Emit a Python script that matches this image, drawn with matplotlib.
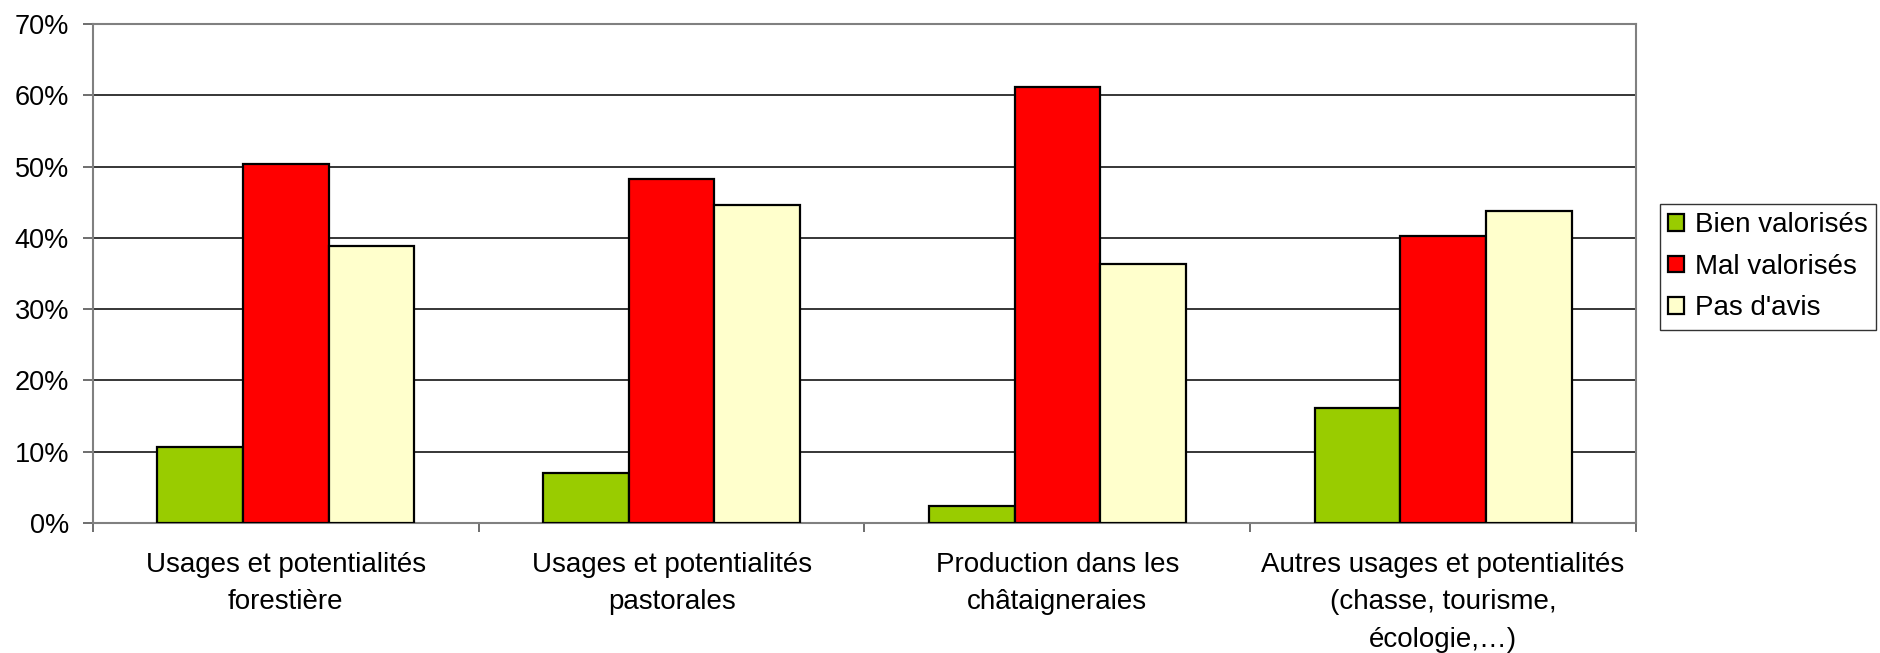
import matplotlib.pyplot as plt
import numpy as np

categories = [
    "Usages et potentialités\nforestière",
    "Usages et potentialités\npastorales",
    "Production dans les\nchâtaigneraies",
    "Autres usages et potentialités\n(chasse, tourisme,\nécologie,…)",
]
series_names = ["Bien valorisés", "Mal valorisés", "Pas d'avis"]
bien = [10.6, 7.0, 2.4, 16.2]
mal = [50.4, 48.3, 61.2, 40.3]
pas_avis = [38.8, 44.6, 36.4, 43.7]
colors = ["#99CC00", "#FF0000", "#FFFFCC"]
yticks = [0, 10, 20, 30, 40, 50, 60, 70]


def main():
    plt.rcParams['font.family'] = ['Liberation Sans', 'DejaVu Sans']
    fig = plt.figure(figsize=(18.81, 6.53), dpi=100)
    ax = fig.add_axes([93 / 1881, 1 - 523 / 653, (1636 - 93) / 1881, (523 - 24) / 653])

    x = np.arange(len(categories))
    w = 0.2222
    for i, vals in enumerate([bien, mal, pas_avis]):
        ax.bar(x + (i - 1) * w, vals, width=w, color=colors[i], edgecolor="black",
               linewidth=1.6, label=series_names[i], zorder=3)

    ax.set_xlim(-0.5, len(categories) - 0.5)
    ax.set_ylim(0, 70)
    ax.set_yticks(yticks)
    ax.set_yticklabels([f"{t}%" for t in yticks], fontsize=19.5)
    ax.yaxis.grid(True, color="black", linewidth=1.1, zorder=0)

    # ticks between categories, labels centred under groups
    ax.set_xticks(np.arange(len(categories) + 1) - 0.5)
    ax.set_xticklabels([])
    ax.set_xticks(x, minor=True)
    ax.set_xticklabels(categories, minor=True, fontsize=20, linespacing=1.56)
    ax.tick_params(axis="x", which="minor", length=0, pad=21)
    ax.tick_params(axis="x", which="major", length=6.5, width=1.2, color="#555555", direction="out")
    ax.tick_params(axis="y", length=7.2, width=1.2, color="#555555", direction="out", pad=10)

    for side in ["left", "right", "top", "bottom"]:
        ax.spines[side].set_color("#808080")
        ax.spines[side].set_linewidth(1.5)

    leg = ax.legend(loc="upper left", bbox_to_anchor=(1660 / 1881, 1 - 204 / 653),
                    bbox_transform=fig.transFigure, fontsize=20, frameon=True, fancybox=False,
                    edgecolor="black", handlelength=0.55, handleheight=0.55, handletextpad=0.4,
                    labelspacing=0.56, borderpad=0.3, borderaxespad=0)
    leg.get_frame().set_linewidth(1.0)

    fig.savefig("out.png", dpi=100, facecolor="white")


if __name__ == "__main__":
    main()
